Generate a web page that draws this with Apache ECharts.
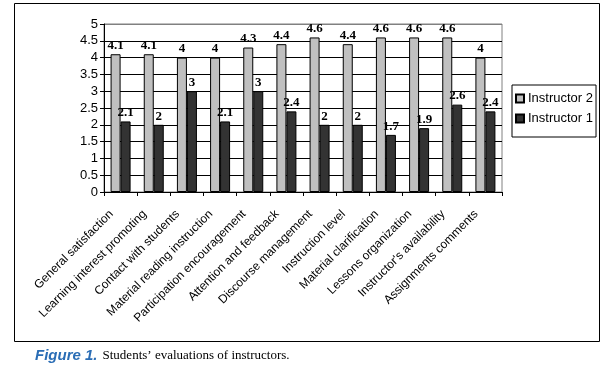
<!DOCTYPE html>
<html><head><meta charset="utf-8">
<script src="https://cdn.jsdelivr.net/npm/echarts@6/dist/echarts.min.js"></script>
<style>html,body{margin:0;padding:0;background:#fff}#c{width:603px;height:367px}</style>
</head><body><div id="c"></div>
<script>
var categories = ["General satisfaction","Learning interest promoting","Contact with students","Material reading instruction","Participation encouragement","Attention and feedback","Discourse management","Instruction level","Material clarification","Lessons organization","Instructor's availability","Assignments comments"];
var instructor2 = [4.1,4.1,4,4,4.3,4.4,4.6,4.4,4.6,4.6,4.6,4];
var instructor1 = [2.1,2,3,2.1,3,2.4,2,2,1.7,1.9,2.6,2.4];
var yTicks = [0,0.5,1,1.5,2,2.5,3,3.5,4,4.5,5];

var chart = echarts.init(document.getElementById('c'), null, {renderer:'canvas'});
var labelStyle = {show:true, position:'top', distance:2, fontFamily:'Liberation Serif', fontWeight:'bold', fontSize:13, color:'#000'};
var gridColors = yTicks.map(function(v){ return v === 5 ? '#808080' : '#000'; });
chart.setOption({
  animation:false,
  backgroundColor:'#fff',
  graphic:[{type:'rect', shape:{x:14.5,y:3.5,width:585,height:338}, style:{fill:null, stroke:'#000', lineWidth:1}, silent:true}],
  title:{
    left:30, top:342,
    text:'{a|Figure 1.} {b|Students\u2019 evaluations of instructors.}',
    textStyle:{rich:{
      a:{fontFamily:'Liberation Sans', fontStyle:'italic', fontWeight:'bold', fontSize:15, color:'#2a6db5'},
      b:{fontFamily:'Liberation Serif', fontWeight:'normal', fontSize:13, color:'#000'}
    }}
  },
  legend:{
    orient:'vertical', left:512, top:85, itemWidth:8, itemHeight:8, itemGap:7,
    borderColor:'#000', borderWidth:1, padding:[7,3,12,3],
    textStyle:{fontFamily:'Liberation Sans', fontSize:13, color:'#000', padding:[0,0,0,-1]},
    data:[{name:'Instructor 2', icon:'rect'},{name:'Instructor 1', icon:'rect'}]
  },
  grid:{left:104, right:101, top:24, bottom:175, show:true, borderColor:'#808080', borderWidth:1},
  xAxis:{
    type:'category', data:categories,
    axisLine:{lineStyle:{color:'#000'}},
    axisTick:{show:true, length:4, lineStyle:{color:'#000'}},
    axisLabel:{rotate:45, interval:0, fontFamily:'Liberation Sans', fontSize:12, color:'#000', margin:11,
      formatter:function(v){ return '{t|' + v + '}'; },
      rich:{t:{fontFamily:'Liberation Sans', fontSize:12, color:'#000', padding:[0,13,0,0]}}}
  },
  yAxis:{
    type:'value', min:0, max:5, interval:0.5,
    axisLine:{show:true, lineStyle:{color:'#000'}},
    axisTick:{show:true, length:4, lineStyle:{color:'#000'}},
    axisLabel:{fontFamily:'Liberation Sans', fontSize:13, color:'#000', margin:6,
      formatter:function(v){ return yTicks.indexOf(v) >= 0 ? String(v) : ''; }},
    splitLine:{lineStyle:{color:gridColors}}
  },
  series:[
    {name:'Instructor 2', type:'bar', data:instructor2, barWidth:10, barGap:'0%',
     itemStyle:{color:'#c0c0c0', borderColor:'#000', borderWidth:1, borderRadius:0}, label:labelStyle},
    {name:'Instructor 1', type:'bar', data:instructor1, barWidth:10,
     itemStyle:{color:'#333333', borderColor:'#000', borderWidth:1, borderRadius:0}, label:labelStyle}
  ]
});
</script></body></html>
